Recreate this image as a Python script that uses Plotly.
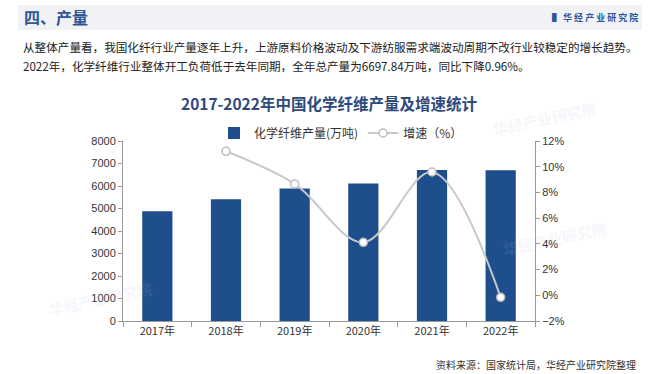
import plotly.graph_objects as go

years = ["2017年", "2018年", "2019年", "2020年", "2021年", "2022年"]
output = [4877.2, 5409, 5884, 6107, 6708.5, 6697.84]
growth_years = ["2018年", "2019年", "2020年", "2021年", "2022年"]
growth = [11.2, 8.66, 4.12, 9.59, -0.16]

FONT = "Liberation Sans, Arial, Noto Sans CJK SC, sans-serif"
CJK = "Noto Sans CJK SC, Liberation Sans, sans-serif"

fig = go.Figure()
fig.add_trace(go.Bar(
    x=years, y=output, name="化学纤维产量(万吨)",
    marker=dict(color="#1f4e8c", line=dict(width=0)),
    yaxis="y",
))
fig.add_trace(go.Scatter(
    x=growth_years, y=growth, name="增速（%）",
    mode="lines+markers",
    line=dict(color="#c8c8c8", width=2, shape="spline", smoothing=1.0),
    marker=dict(size=8, color="white", line=dict(color="#bdbdbd", width=1.5)),
    yaxis="y2",
))

L, R, T, B = 123, 125, 141, 53
W, H = 660, 374
PW, PH = W - L - R, H - T - B


def px_x(x):
    return (x - L) / PW


def px_y(y):
    return (H - B - y) / PH


fig.update_layout(
    width=W, height=H,
    margin=dict(l=L, r=R, t=T, b=B, autoexpand=False),
    paper_bgcolor="white", plot_bgcolor="white",
    font=dict(family=FONT, size=11, color="#333333"),
    bargap=0.56,
    showlegend=True,
    legend=dict(orientation="h", x=px_x(214), xanchor="left", y=px_y(133), yanchor="middle",
                font=dict(family=CJK, size=12, color="#333333"),
                itemwidth=30, tracegroupgap=0, bgcolor="rgba(0,0,0,0)"),
    xaxis=dict(
        type="category", categoryorder="array", categoryarray=years,
        showline=True, linecolor="#9a9a9a", linewidth=1,
        ticks="outside", tickson="boundaries", ticklen=5, tickcolor="#9a9a9a",
        tickfont=dict(family=CJK, size=11, color="#333333"),
        showgrid=False, zeroline=False,
    ),
    yaxis=dict(
        range=[0, 8000], dtick=1000, showline=True, linecolor="#9a9a9a", linewidth=1,
        ticks="outside", ticklen=4, tickcolor="#9a9a9a", showgrid=False, zeroline=False,
        tickfont=dict(family=FONT, size=11, color="#333333"),
    ),
    yaxis2=dict(
        overlaying="y", side="right", range=[-2, 12], dtick=2, ticksuffix="%",
        showline=True, linecolor="#9a9a9a", linewidth=1,
        ticks="outside", ticklen=4, tickcolor="#9a9a9a", showgrid=False, zeroline=False,
        tickfont=dict(family=FONT, size=11, color="#333333"),
    ),
)

# Header band
fig.add_shape(type="rect", xref="paper", yref="paper",
              x0=px_x(18), x1=px_x(642), y0=px_y(30), y1=px_y(5),
              fillcolor="#f1f2f5", line=dict(width=0), layer="below")

# faint watermarks (outside the bars)
for wx, wy in [(600, 95), (45, 322), (610, 262)]:
    fig.add_annotation(xref="paper", yref="paper", showarrow=False, x=px_x(wx), y=px_y(wy),
                       text="<b>华经产业研究院</b>", textangle=-12,
                       font=dict(family=CJK, size=15, color="rgba(170,185,215,0.15)"))

anns = [
    dict(text="<b>四、产量</b>", x=px_x(22), y=px_y(17), xanchor="left", yanchor="middle",
         font=dict(family=CJK, size=16, color="#2f5597")),
    dict(text="<b>▌ 华 经 产 业 研 究 院</b>", x=px_x(640), y=px_y(17), xanchor="right", yanchor="middle",
         font=dict(family=CJK, size=9, color="#2f5597")),
    dict(text="从整体产量看，我国化纤行业产量逐年上升，上游原料价格波动及下游纺服需求端波动周期不改行业较稳定的增长趋势。",
         x=px_x(21), y=px_y(47), xanchor="left", yanchor="middle",
         font=dict(family=CJK, size=11.6, color="#222222")),
    dict(text="2022年，化学纤维行业整体开工负荷低于去年同期，全年总产量为6697.84万吨，同比下降0.96%。",
         x=px_x(21), y=px_y(66), xanchor="left", yanchor="middle",
         font=dict(family=CJK, size=11.6, color="#222222")),
    dict(text="<b>2017-2022年中国化学纤维产量及增速统计</b>", x=px_x(329), y=px_y(103),
         xanchor="center", yanchor="middle",
         font=dict(family=CJK, size=15.5, color="#2e4a7a")),
    dict(text="资料来源：国家统计局，华经产业研究院整理", x=px_x(638), y=px_y(364),
         xanchor="right", yanchor="middle",
         font=dict(family=CJK, size=10, color="#333333")),
]
for a in anns:
    fig.add_annotation(xref="paper", yref="paper", showarrow=False, **a)

fig.write_html(
    "out.html",
    config={"displayModeBar": False},
    post_script="document.body.style.margin='0';document.body.style.padding='0';",
)
